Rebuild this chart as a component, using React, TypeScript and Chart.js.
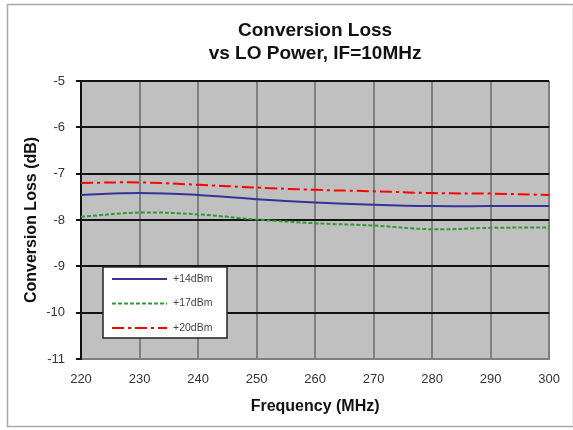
import React, { useEffect, useRef } from 'react';
import { Chart, registerables } from 'chart.js';
Chart.register(...registerables);

const titleLines = ['Conversion Loss', 'vs LO Power, IF=10MHz'];
const xTitle = 'Frequency (MHz)';
const yTitle = 'Conversion Loss (dB)';
const frequencies = [220, 230, 240, 250, 260, 270, 280, 290, 300];
const seriesLabels = ['+14dBm', '+17dBm', '+20dBm'];
const lo14 = [-7.46, -7.42, -7.46, -7.55, -7.62, -7.67, -7.7, -7.7, -7.7];
const lo17 = [-7.93, -7.84, -7.88, -7.99, -8.07, -8.12, -8.2, -8.17, -8.16];
const lo20 = [-7.2, -7.19, -7.24, -7.3, -7.35, -7.38, -7.42, -7.43, -7.46];
const yMin = -11;
const yMax = -5;
const xMin = 220;
const xMax = 300;

const FONT = "'Liberation Sans', Arial, sans-serif";

const framePlugin = {
  id: 'frame',
  beforeDraw(chart: any) {
    const { ctx, chartArea } = chart;
    ctx.save();
    ctx.fillStyle = '#ffffff';
    ctx.fillRect(0, 0, chart.width, chart.height);
    ctx.strokeStyle = '#a8a8a8';
    ctx.lineWidth = 1.5;
    ctx.strokeRect(7.5, 4.5, 566, 422);
    ctx.fillStyle = '#c0c0c0';
    ctx.fillRect(chartArea.left, chartArea.top, chartArea.right - chartArea.left, chartArea.bottom - chartArea.top);
    ctx.restore();
  },
};

const legendPlugin = {
  id: 'innerLegend',
  afterDatasetsDraw(chart: any) {
    const { ctx, chartArea } = chart;
    const x0 = chartArea.left + 22;
    const y0 = chartArea.top + 186;
    const w = 124;
    const h = 71;
    ctx.save();
    ctx.fillStyle = '#ffffff';
    ctx.fillRect(x0, y0, w, h);
    ctx.strokeStyle = '#222222';
    ctx.lineWidth = 1.5;
    ctx.strokeRect(x0, y0, w, h);
    chart.data.datasets.forEach((ds: any, i: number) => {
      const yy = y0 + 12 + i * 24.5;
      ctx.beginPath();
      ctx.strokeStyle = ds.borderColor;
      ctx.lineWidth = ds.borderWidth;
      ctx.setLineDash(ds.borderDash || []);
      ctx.moveTo(x0 + 9, yy);
      ctx.lineTo(x0 + 64, yy);
      ctx.stroke();
      ctx.setLineDash([]);
      ctx.fillStyle = '#444444';
      ctx.font = `10.5px ${FONT}`;
      ctx.textBaseline = 'middle';
      ctx.textAlign = 'left';
      ctx.fillText(ds.label, x0 + 70, yy);
    });
    ctx.restore();
  },
};

export default function App() {
  const ref = useRef<HTMLCanvasElement | null>(null);
  useEffect(() => {
    if (!ref.current) return;
    const mk = (ys: number[]) => frequencies.map((f, i) => ({ x: f, y: ys[i] }));
    const chart = new Chart(ref.current, {
      type: 'line',
      data: {
        datasets: [
          { label: seriesLabels[0], data: mk(lo14), borderColor: '#333399', borderWidth: 2, pointRadius: 0, tension: 0.4, fill: false },
          { label: seriesLabels[1], data: mk(lo17), borderColor: '#339933', borderWidth: 2, borderDash: [4, 2], pointRadius: 0, tension: 0.4, fill: false },
          { label: seriesLabels[2], data: mk(lo20), borderColor: '#ff0000', borderWidth: 2, borderDash: [12, 4, 3, 4], pointRadius: 0, tension: 0.4, fill: false },
        ],
      },
      options: {
        responsive: false,
        animation: false,
        layout: { padding: { left: 8, top: 4, right: 23, bottom: 4 } },
        plugins: {
          legend: { display: false },
          tooltip: { enabled: false },
          title: {
            display: true,
            text: titleLines,
            fullSize: false,
            color: '#111111',
            font: { family: FONT, size: 19, weight: 'bold', lineHeight: 1.21 },
            padding: { top: 15.5, bottom: 15.5 },
          },
        },
        scales: {
          x: {
            type: 'linear',
            min: xMin,
            max: xMax,
            afterFit: (s: any) => { s.height = 67; },
            ticks: { stepSize: 10, color: '#333333', font: { family: FONT, size: 13 }, padding: 13, maxRotation: 0 },
            grid: { color: '#808080', lineWidth: 2, drawTicks: false },
            border: { color: '#808080', width: 2 },
            title: { display: true, text: xTitle, color: '#111111', font: { family: FONT, size: 16, weight: 'bold' }, padding: { top: 0, bottom: 9.4 } },
          },
          y: {
            min: yMin,
            max: yMax,
            afterFit: (s: any) => { s.width = 73; },
            ticks: { stepSize: 1, color: '#333333', font: { family: FONT, size: 13 }, padding: 11 },
            grid: { color: '#111111', lineWidth: 2, tickLength: 5 },
            border: { color: '#111111', width: 2 },
            title: { display: true, text: yTitle, color: '#111111', font: { family: FONT, size: 16, weight: 'bold' }, padding: { top: 14.4, bottom: 0 } },
          },
        },
      },
      plugins: [framePlugin, legendPlugin],
    } as any);
    return () => chart.destroy();
  }, []);
  return (
    <div style={{ position: 'absolute', left: 0, top: 0, width: 573, height: 430 }}>
      <canvas ref={ref} width={573} height={430} style={{ display: 'block' }} />
    </div>
  );
}
